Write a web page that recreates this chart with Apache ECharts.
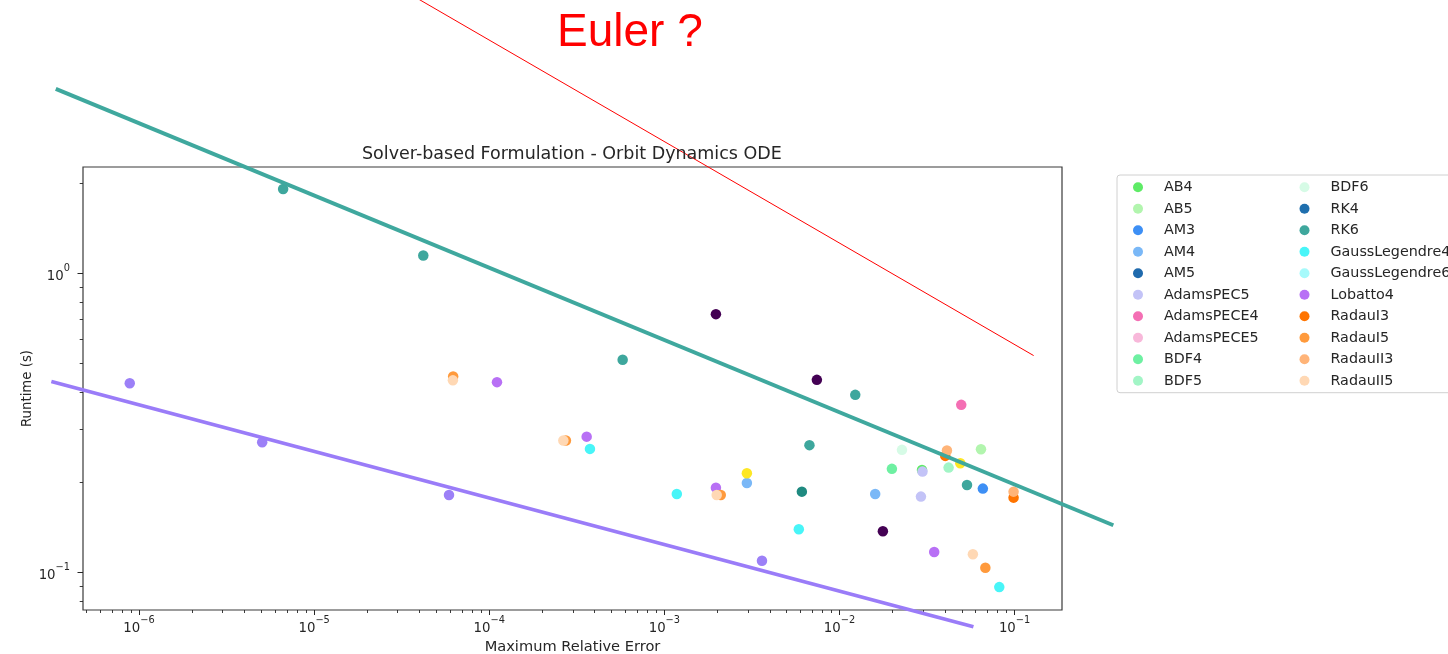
<!DOCTYPE html>
<html>
<head>
<meta charset="utf-8">
<title>Solver-based Formulation - Orbit Dynamics ODE</title>
<script src="https://cdn.jsdelivr.net/npm/echarts@6/dist/echarts.min.js"></script>
<style>
  html, body { margin: 0; padding: 0; background: #ffffff; }
  #chart { width: 1448px; height: 654px; }
</style>
</head>
<body>
<div id="chart"></div>
<script>
// Solver names, in legend order
const solverNames = ['AB4', 'AB5', 'AM3', 'AM4', 'AM5', 'AdamsPEC5', 'AdamsPECE4', 'AdamsPECE5',
  'BDF4', 'BDF5', 'BDF6', 'RK4', 'RK6', 'GaussLegendre4', 'GaussLegendre6', 'Lobatto4',
  'RadauI3', 'RadauI5', 'RadauII3', 'RadauII5'];

// [max relative error, runtime in s] per solver run
const ab4 = [[0.0296, 0.2198]];
const ab5 = [[0.0643, 0.2578]];
const am3 = [[0.0659, 0.1904]];
const am4 = [[0.00296, 0.1989], [0.0160, 0.1827]];
const am5 = [];
const adamsPEC5 = [[0.0298, 0.2170], [0.0292, 0.1790]];
const adamsPECE4 = [[0.0496, 0.3627]];
const adamsPECE5 = [];
const bdf4 = [[0.01993, 0.2216]];
const bdf5 = [[0.0420, 0.2238]];
const bdf6 = [[0.02275, 0.2565]];
const rk4 = [];
const rk6 = [[6.65e-6, 1.91], [4.20e-5, 1.145], [5.78e-4, 0.513], [6.74e-3, 0.266], [0.01231, 0.3917], [0.0535, 0.1958]];
const gaussLegendre4 = [[3.76e-4, 0.2584], [1.178e-3, 0.1827], [5.86e-3, 0.1393], [0.0818, 0.0892]];
const gaussLegendre6 = [];
const lobatto4 = [[1.107e-4, 0.432], [3.60e-4, 0.284], [1.97e-3, 0.1918], [0.03476, 0.1169]];
const radauI3 = [[0.0402, 0.2449], [0.0987, 0.1776]];
const radauI5 = [[6.22e-5, 0.451], [2.74e-4, 0.2755], [2.10e-3, 0.1813], [0.0681, 0.1035]];
const radauII3 = [[0.0411, 0.2551], [0.0987, 0.1860]];
const radauII5 = [[6.20e-5, 0.438], [2.65e-4, 0.2755], [1.99e-3, 0.1813], [0.0578, 0.1149]];

const solverPoints = [ab4, ab5, am3, am4, am5, adamsPEC5, adamsPECE4, adamsPECE5,
  bdf4, bdf5, bdf6, rk4, rk6, gaussLegendre4, gaussLegendre6, lobatto4,
  radauI3, radauI5, radauII3, radauII5];

// Further runs outside the listed legend entries
const otherNames = ['Other 1', 'Other 2', 'Other 3', 'Other 4'];
const other1 = [[1.97e-3, 0.729], [7.43e-3, 0.4396], [0.0177, 0.1371]];
const other2 = [[2.96e-3, 0.2143], [0.0490, 0.2314]];
const other3 = [[6.10e-3, 0.1860]];
const other4 = [[8.85e-7, 0.4285], [5.05e-6, 0.272], [5.89e-5, 0.1813], [3.61e-3, 0.1093]];
const otherPoints = [other1, other2, other3, other4];

// Trend lines (error, runtime) end points
const upperTrend = [[3.346e-7, 4.125], [0.3664, 0.1436]];
const lowerTrend = [[3.157e-7, 0.4341], [0.05822, 0.06577]];
const eulerGuide = [[3.18e-5, 8.86], [0.1285, 0.530]];
const eulerText = 'Euler ?';

// Axis ranges and ticks
const xRange = [4.786e-7, 0.1866];
const yRange = [0.0748, 2.262];
const xMajorTicks = [1e-6, 1e-5, 1e-4, 1e-3, 1e-2, 1e-1];
const xMinorTicks = [5e-7, 6e-7, 7e-7, 8e-7, 9e-7,
  2e-6, 3e-6, 4e-6, 5e-6, 6e-6, 7e-6, 8e-6, 9e-6,
  2e-5, 3e-5, 4e-5, 5e-5, 6e-5, 7e-5, 8e-5, 9e-5,
  2e-4, 3e-4, 4e-4, 5e-4, 6e-4, 7e-4, 8e-4, 9e-4,
  2e-3, 3e-3, 4e-3, 5e-3, 6e-3, 7e-3, 8e-3, 9e-3,
  0.02, 0.03, 0.04, 0.05, 0.06, 0.07, 0.08, 0.09];
const yMajorTicks = [0.1, 1];
const yMinorTicks = [0.08, 0.09, 0.2, 0.3, 0.4, 0.5, 0.6, 0.7, 0.8, 0.9, 2];

// Marker colours
const solverColors = ['#5eeb66', '#b2f5ae', '#3d8ff5', '#7ab8f7', '#1f6aad', '#c3c3f7', '#f46fb4', '#f8b8da',
  '#6ef0a2', '#a2f5c6', '#d6fbe6', '#1f6fae', '#3ea79d', '#48f5f8', '#a6fafb', '#b870f5',
  '#ff7400', '#ff9a3c', '#ffb478', '#ffd8b4'];
const otherColors = ['#440154', '#fde725', '#1f8a80', '#9c80f7'];

const FONT = '"DejaVu Sans", sans-serif';
const INK = '#262626';

function powerLabel(v) {
  const e = Math.round(Math.log10(v));
  const exp = e < 0 ? '\u2212' + (-e) : String(e);
  return '{b|10}{s|' + exp + '}';
}
const powerRich = {
  b: { fontSize: 13.3, fontFamily: FONT, color: INK, lineHeight: 20, verticalAlign: 'bottom' },
  s: { fontSize: 9.8, fontFamily: FONT, color: INK, lineHeight: 10.8, verticalAlign: 'top' }
};

const series = [];
solverNames.forEach(function (name, i) {
  series.push({
    name: name, type: 'scatter', data: solverPoints[i], symbol: 'circle', symbolSize: 10.5,
    itemStyle: { color: solverColors[i], opacity: 1 }, z: 3
  });
});
otherNames.forEach(function (name, i) {
  series.push({
    name: name, type: 'scatter', data: otherPoints[i], symbol: 'circle', symbolSize: 10.5,
    itemStyle: { color: otherColors[i], opacity: 1 }, z: 3
  });
});
// straight guide lines, allowed to run past the plot frame
function trend(name, coords, color, width) {
  return {
    name: name, type: 'lines', coordinateSystem: 'cartesian2d', clip: false, polyline: false,
    data: [{ coords: coords }],
    lineStyle: { color: color, width: width, opacity: 1, curveness: 0 },
    z: 5, silent: true
  };
}
series.push(trend('upper trend', upperTrend, '#3fa89e', 4));
series.push(trend('lower trend', lowerTrend, '#9a7cf8', 3.8));
series.push(trend('euler guide', eulerGuide, '#ff0000', 1));

const axisBase = {
  type: 'log', logBase: 10, gridIndex: 0,
  axisLine: { show: false }, splitLine: { show: false }, minorTick: { show: false }
};

const option = {
  animation: false,
  backgroundColor: '#ffffff',
  title: {
    text: 'Solver-based Formulation - Orbit Dynamics ODE',
    left: 357, top: 140,
    textStyle: { fontFamily: FONT, fontSize: 17.5, fontWeight: 'normal', color: INK }
  },
  grid: {
    left: 83, top: 167, width: 979, height: 443,
    outerBoundsMode: 'none', containLabel: false,
    show: true, borderColor: '#3a3a3a', borderWidth: 1.2, backgroundColor: 'transparent'
  },
  legend: {
    data: solverNames,
    orient: 'vertical', left: 1117, top: 175, height: 220,
    padding: [4.3, 0, 3.9, 16],
    itemWidth: 42, itemHeight: 10, itemGap: 5.5, icon: 'circle',
    borderColor: '#d0d0d0', borderWidth: 1, borderRadius: 3,
    selectedMode: false,
    textStyle: { fontFamily: FONT, fontSize: 14.3, lineHeight: 16, color: INK, width: 130, overflow: 'truncate' }
  },
  xAxis: [
    Object.assign({}, axisBase, {
      position: 'bottom', min: xRange[0], max: xRange[1],
      axisTick: { show: true, customValues: xMajorTicks, length: 5, lineStyle: { color: INK, width: 1 } },
      axisLabel: { show: true, customValues: xMajorTicks, formatter: powerLabel, rich: powerRich, margin: 5 },
      name: 'Maximum Relative Error', nameLocation: 'middle', nameGap: 29,
      nameTextStyle: { fontFamily: FONT, fontSize: 14.6, color: INK }
    }),
    Object.assign({}, axisBase, {
      position: 'bottom', min: xRange[0], max: xRange[1],
      axisTick: { show: true, customValues: xMinorTicks, length: 3, lineStyle: { color: INK, width: 0.9 } },
      axisLabel: { show: false }
    })
  ],
  yAxis: [
    Object.assign({}, axisBase, {
      position: 'left', min: yRange[0], max: yRange[1],
      axisTick: { show: true, customValues: yMajorTicks, length: 5.5, lineStyle: { color: INK, width: 1 } },
      axisLabel: { show: true, customValues: yMajorTicks, formatter: powerLabel, rich: powerRich, margin: 13 },
      name: 'Runtime (s)', nameLocation: 'middle', nameGap: 49, nameRotate: 90, nameMoveOverlap: false,
      nameTextStyle: { fontFamily: FONT, fontSize: 13.3, color: INK }
    }),
    Object.assign({}, axisBase, {
      position: 'left', min: yRange[0], max: yRange[1],
      axisTick: { show: true, customValues: yMinorTicks, length: 3.3, lineStyle: { color: INK, width: 0.9 } },
      axisLabel: { show: false }
    })
  ],
  graphic: [{
    type: 'text', left: 557, top: 10, z: 10,
    style: { text: eulerText, fontFamily: '"Liberation Sans", Arial, sans-serif', fontSize: 46, fill: '#ff0000' }
  }],
  series: series
};

// every series goes on the first x/y axes
option.series.forEach(function (s) { s.xAxisIndex = 0; s.yAxisIndex = 0; });

const chart = echarts.init(document.getElementById('chart'), null, { renderer: 'canvas' });
chart.setOption(option);
</script>
</body>
</html>
